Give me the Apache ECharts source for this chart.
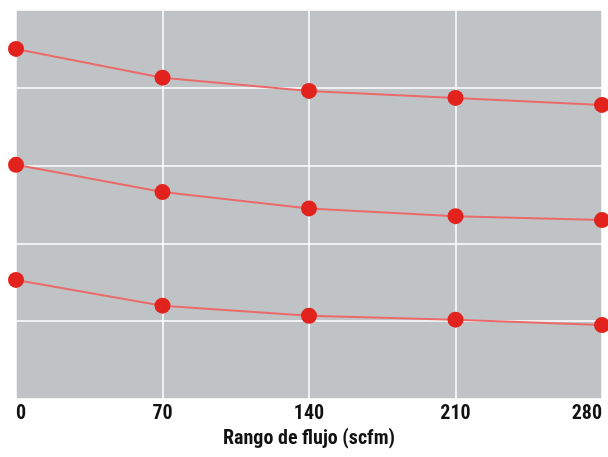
<!DOCTYPE html>
<html>
<head>
<meta charset="utf-8">
<script src="https://cdn.jsdelivr.net/npm/echarts@6/dist/echarts.min.js"></script>
<style>html,body{margin:0;padding:0;background:#fff;}#c{width:608px;height:457px;}</style>
</head>
<body>
<div id="c"></div>
<script>
const xValues = [0, 70, 140, 210, 280];
const xTicks = [0, 70, 140, 210, 280];
const seriesTop = [4.50, 4.13, 3.96, 3.87, 3.78];
const seriesMid = [3.01, 2.66, 2.45, 2.35, 2.30];
const seriesBot = [1.53, 1.20, 1.07, 1.02, 0.95];
const xAxisName = 'Rango de flujo (scfm)';

const font = '"Roboto Condensed", "Liberation Sans Narrow", sans-serif';
const chart = echarts.init(document.getElementById('c'), null, {renderer: 'canvas'});
function mk(vals) {
  return {
    type: 'line',
    data: xValues.map((x, i) => [x, vals[i]]),
    symbol: 'circle',
    symbolSize: 16,
    lineStyle: {color: '#ea6a6a', width: 2},
    itemStyle: {color: '#e2231d'},
    z: 3
  };
}
chart.setOption({
  animation: false,
  grid: {left: 16, right: 6, top: 10, bottom: 58, show: true, backgroundColor: '#c0c3c6', borderWidth: 0},
  xAxis: {
    type: 'value', min: 0, max: 280, interval: 70,
    axisLine: {show: false}, axisTick: {show: false},
    splitLine: {show: true, lineStyle: {color: '#ffffff', width: 1.5}},
    axisLabel: {
      fontFamily: font, fontWeight: 'bold', fontSize: 20, color: '#111', margin: 5,
      alignMinLabel: 'left', alignMaxLabel: 'right',
      formatter: v => xTicks.includes(v) ? String(v) : ''
    },
    name: xAxisName, nameLocation: 'middle', nameGap: 27,
    nameTextStyle: {fontFamily: font, fontWeight: 'bold', fontSize: 20, color: '#111'}
  },
  yAxis: {
    type: 'value', min: 0, max: 5, interval: 1,
    axisLine: {show: false}, axisTick: {show: false}, axisLabel: {show: false},
    splitLine: {show: true, lineStyle: {color: '#ffffff', width: 1.5}}
  },
  series: [mk(seriesTop), mk(seriesMid), mk(seriesBot)]
});
</script>
</body>
</html>
